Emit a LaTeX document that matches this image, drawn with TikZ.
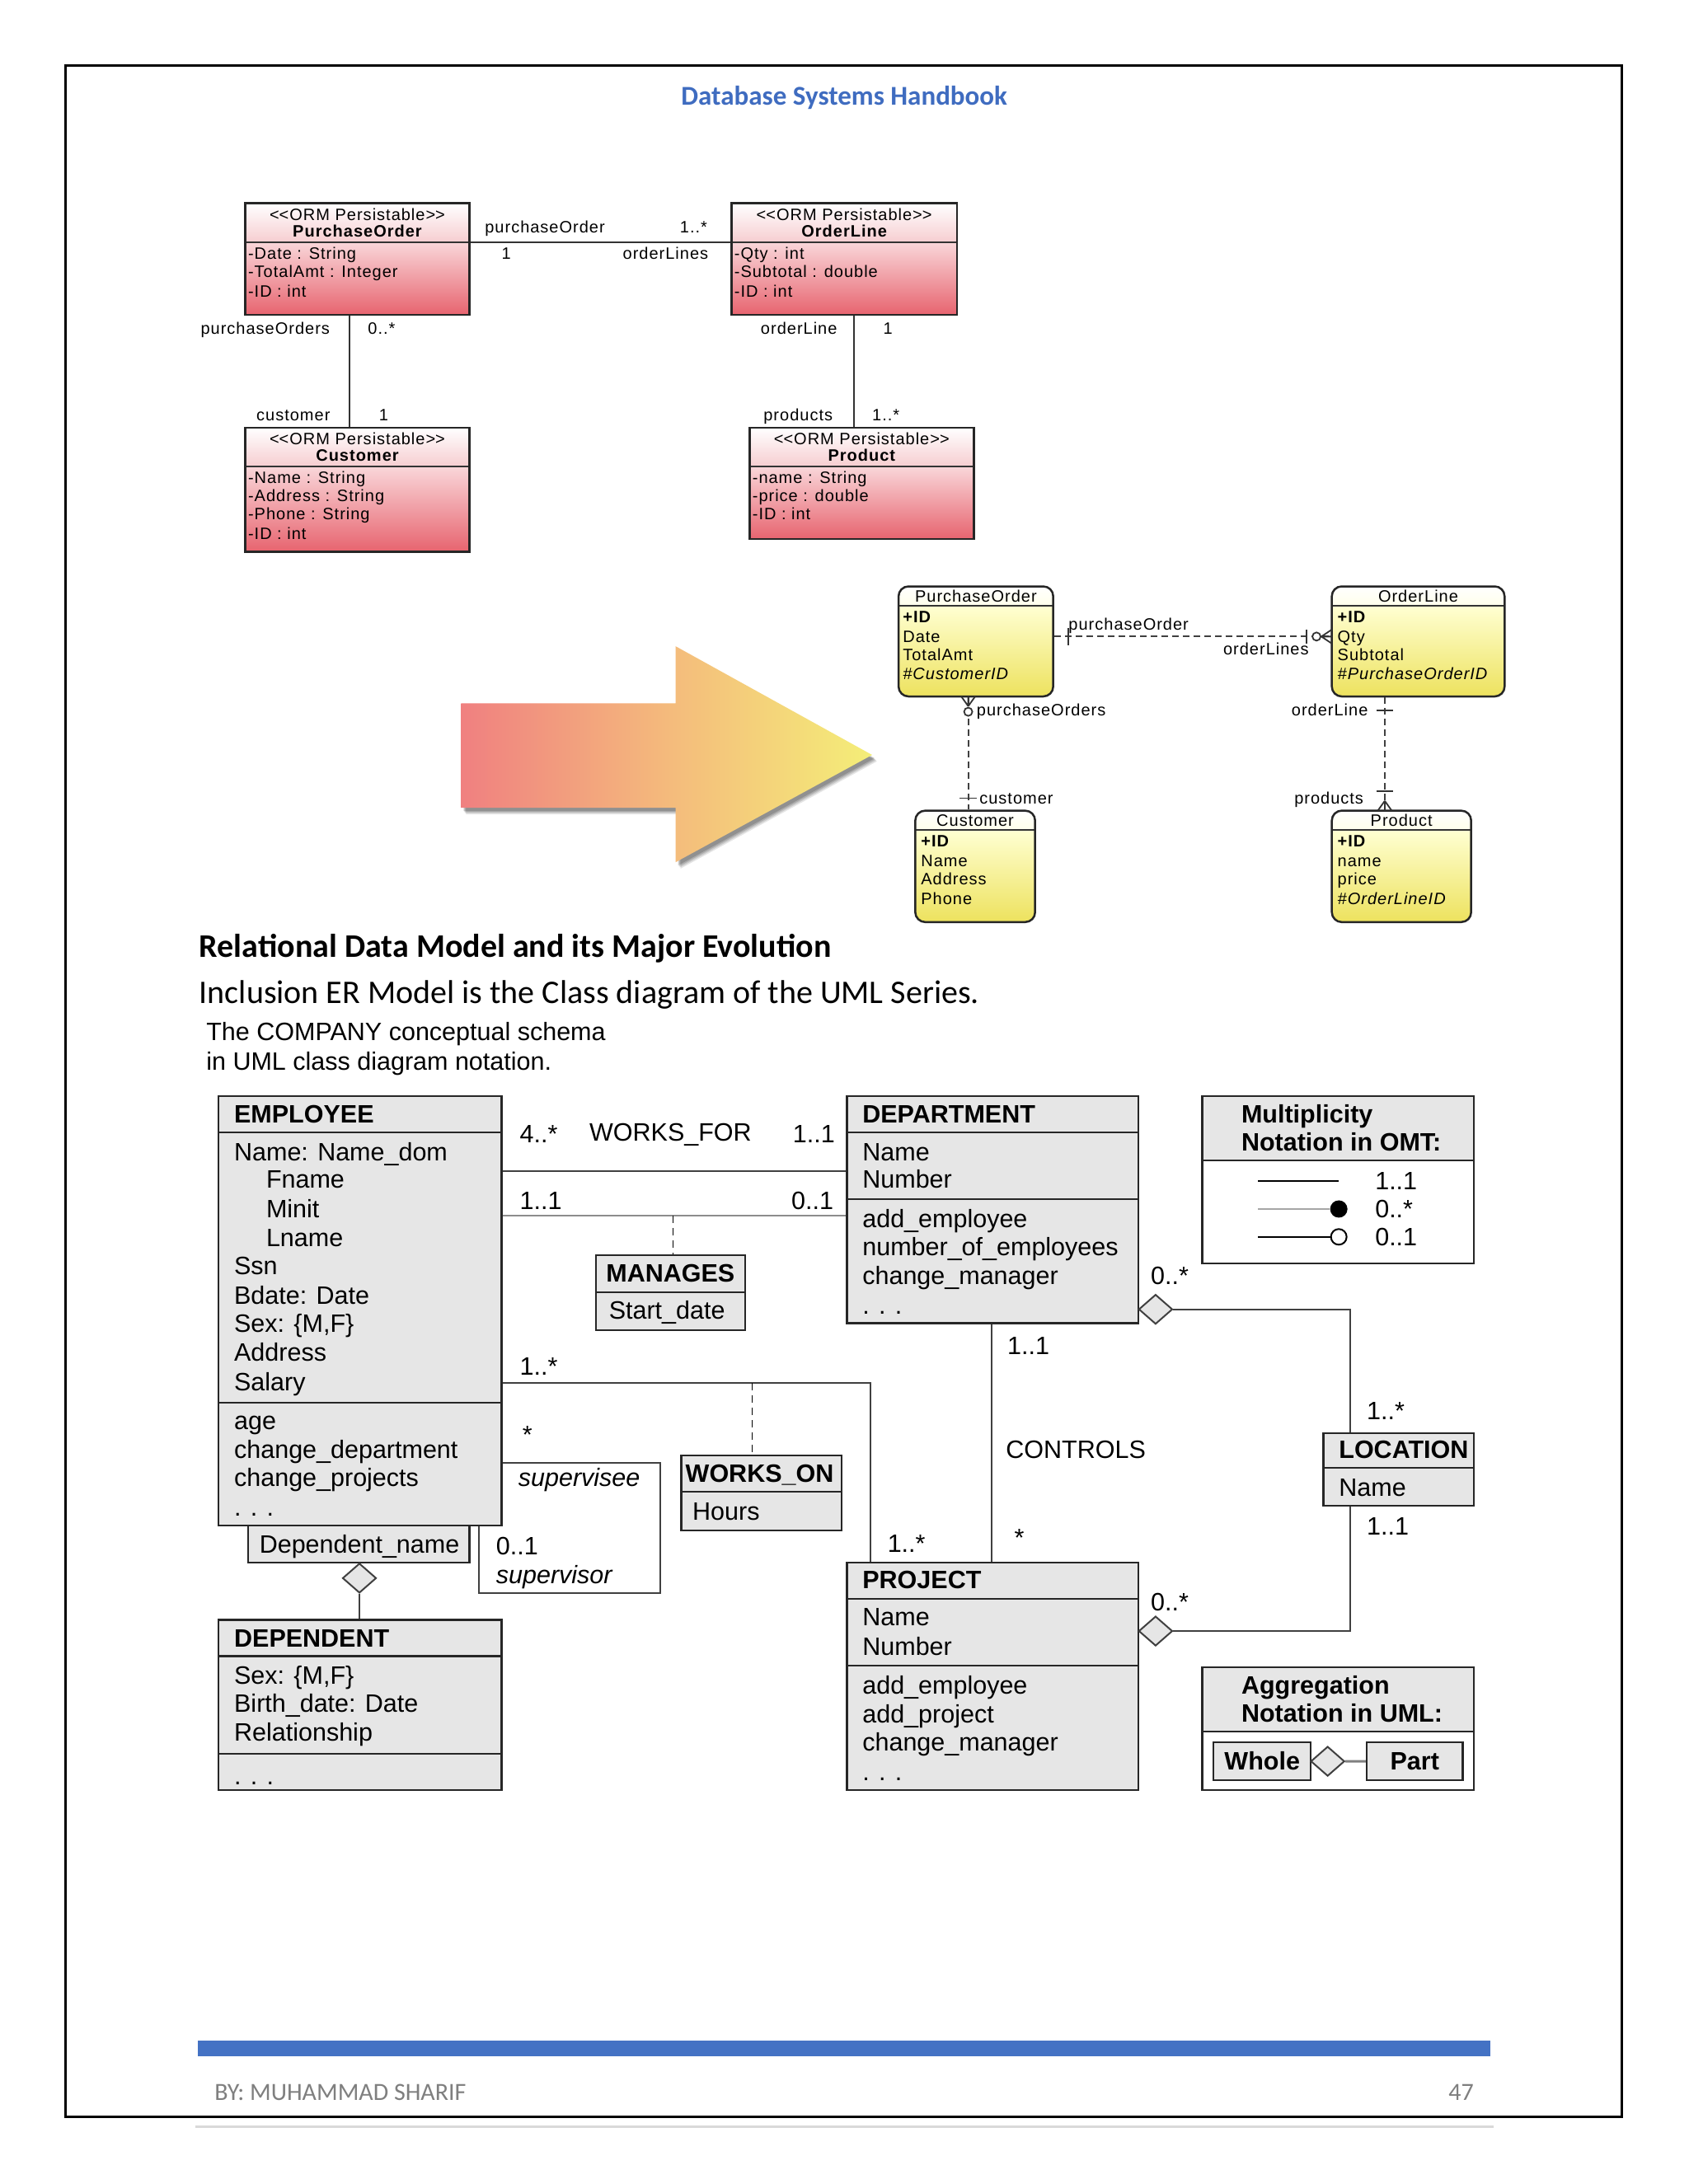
\documentclass[tikz,border=0pt]{standalone}
\usepackage{fontspec}
\setmainfont{Liberation Sans}
\newfontfamily\calib{Carlito}
\newfontfamily\ofont{Liberation Sans}[LetterSpace=5]
\usetikzlibrary{shapes.geometric,fit,calc}
\definecolor{titleblue}{HTML}{3F6CC0}
\definecolor{barblue}{HTML}{4472C4}
\definecolor{footgrey}{HTML}{7F7F7F}
\definecolor{umlgrey}{HTML}{E6E6E6}
\definecolor{ormhead}{HTML}{F6CDD0}
\definecolor{ormtop}{HTML}{F9D6D9}
\definecolor{ormbot}{HTML}{E7646F}
\definecolor{ylwhead}{HTML}{FFFFEA}
\definecolor{ylwtop}{HTML}{FFFFD2}
\definecolor{ylwbot}{HTML}{EDE25E}
\definecolor{arrpink}{HTML}{F08080}
\definecolor{arrorange}{HTML}{F4BA7C}
\definecolor{arryellow}{HTML}{F4EE78}
\newcommand\ormbox[7]{%
  \shade[top color=white,bottom color=ormhead] (#2,#3) rectangle (#4,#5);
  \shade[top color=ormtop,bottom color=ormbot] (#2,#5) rectangle (#4,#6);
  \draw[line width=1.8pt,black!80] (#2,#5) -- (#4,#5);
  \node[draw=black!85,line width=2.5pt,inner sep=0pt,fit={(#2,#3) (#4,#6)}] (#1) {};
  \node[ot,anchor=center] (#1-st) at ({(#2+#4)/2},#3+8) {<\kern0pt<ORM Persistable>\kern0pt>};
  \node[ot,anchor=center,font=\ofont\bfseries\fontsize{20}{24}\selectfont] (#1-ti) at ({(#2+#4)/2},#3+20) {#7};
}
\newcommand\ylwbox[7]{%
  \begin{scope}
  \clip[rounded corners=12pt] (#2,#3) rectangle (#4,#6);
  \shade[top color=white,bottom color=ylwhead] (#2,#3) rectangle (#4,#5);
  \shade[top color=ylwtop,bottom color=ylwbot] (#2,#5) rectangle (#4,#6);
  \end{scope}
  \draw[line width=1.8pt,black!80] (#2,#5) -- (#4,#5);
  \node[draw=black!85,line width=2.5pt,rounded corners=12pt,inner sep=0pt,fit={(#2,#3) (#4,#6)}] (#1) {};
  \node[ot,anchor=center] (#1-ti) at ({(#2+#4)/2},{(#3+#5)/2}) {#7};
}
\newcommand\arrowpath{(331,505) -- (485,505) -- (485,464) -- (626,542) -- (485,619) -- (485,580) -- (331,580) -- cycle}
\begin{document}
\begin{tikzpicture}[x=1.6898pt,y=-1.6898pt,
  ut/.style={anchor=west,inner sep=0pt,font=\fontsize{30.5}{36}\selectfont,text height=21pt,text depth=0pt},
  ub/.style={ut,font=\bfseries\fontsize{30.5}{36}\selectfont},
  ui/.style={ut,font=\itshape\fontsize{30.5}{36}\selectfont},
  umlbox/.style={draw=black!85,line width=2.2pt,fill=umlgrey,inner sep=0pt},
  comp/.style={line width=2.2pt,draw=black!85},
  assoc/.style={line width=2pt,draw=black!75},
  ot/.style={anchor=west,inner sep=0pt,font=\ofont\fontsize{20}{24}\selectfont,text height=14pt,text depth=0pt},
  ob/.style={ot,font=\ofont\bfseries\fontsize{20}{24}\selectfont},
  oi/.style={ot,font=\ofont\itshape\fontsize{20}{24}\selectfont},
  ormline/.style={line width=2pt,draw=black!80},
  ydash/.style={line width=1.8pt,draw=black!75,dash pattern=on 8pt off 5pt},
  ymark/.style={line width=1.8pt,draw=black!80},
  diam/.style={diamond,draw=black!75,line width=2pt,fill=umlgrey,inner sep=0pt,minimum width=41pt,minimum height=36pt}
]
\useasboundingbox (0,0) rectangle (1212,1568);
\fill[white] (0,0) rectangle (1212,1568);
% page frame
\draw[line width=3pt] (47,47) rectangle (1164,1520);
\draw[black!15,line width=3pt] (140,1527) -- (1072,1527);
\node[font=\calib\bfseries\fontsize{33}{40}\selectfont,text=titleblue,inner sep=0pt] (title) at (606,70) {Database Systems Handbook};

% ===== ORM diagram =====
\ormbox{po}{176}{146}{337}{174}{226}{PurchaseOrder}
\ormbox{ol}{525}{146}{687}{174}{226}{OrderLine}
\ormbox{cu}{176}{307}{337}{335}{396}{Customer}
\ormbox{pr}{538}{307}{699}{335}{387}{Product}
\node[ot] (po1) at (178,182) {-Date : String};
\node[ot] (po2) at (178,195) {-TotalAmt : Integer};
\node[ot] (po3) at (178,209) {-ID : int};
\node[ot] (ol1) at (527,182) {-Qty : int};
\node[ot] (ol2) at (527,195) {-Subtotal : double};
\node[ot] (ol3) at (527,209) {-ID : int};
\node[ot] (cu1) at (178,343) {-Name : String};
\node[ot] (cu2) at (178,356) {-Address : String};
\node[ot] (cu3) at (178,369) {-Phone : String};
\node[ot] (cu4) at (178,383) {-ID : int};
\node[ot] (pr1) at (540,343) {-name : String};
\node[ot] (pr2) at (540,356) {-price : double};
\node[ot] (pr3) at (540,369) {-ID : int};
\draw[ormline] (po.east |- 0,174) -- (ol.west |- 0,174);
\draw[ormline] (po.south -| 251,0) -- (cu.north -| 251,0);
\draw[ormline] (ol.south -| 613,0) -- (pr.north -| 613,0);
\node[ot] (l1) at (348,163) {purchaseOrder};
\node[ot] (l2) at (488,163) {1..*};
\node[ot] (l3) at (360,182) {1};
\node[ot] (l4) at (447,182) {orderLines};
\node[ot] (l5) at (144,236) {purchaseOrders};
\node[ot] (l6) at (264,236) {0..*};
\node[ot] (l7) at (184,298) {customer};
\node[ot] (l8) at (272,298) {1};
\node[ot] (l9) at (546,236) {orderLine};
\node[ot] (l10) at (634,236) {1};
\node[ot] (l11) at (548,298) {products};
\node[ot] (l12) at (626,298) {1..*};

% ===== big arrow with soft shadow =====
\foreach \s/\o in {6/0.10,5/0.12,4/0.14,3/0.16}{
  \fill[black,opacity=\o,xshift=\s pt,yshift=-1.3*\s pt] \arrowpath;
}
\shade[left color=arrpink,right color=arryellow,middle color=arrorange] \arrowpath;

% ===== yellow ER diagram =====
\ylwbox{ypo}{645}{421}{756}{435}{500}{PurchaseOrder}
\ylwbox{yol}{956}{421}{1080}{435}{500}{OrderLine}
\ylwbox{ycu}{657}{582}{743}{596}{662}{Customer}
\ylwbox{ypr}{956}{582}{1056}{596}{662}{Product}
\node[ob] (ya1) at (648,443) {+ID};
\node[ot] (ya2) at (648,457) {Date};
\node[ot] (ya3) at (648,470) {TotalAmt};
\node[oi] (ya4) at (648,484) {\#CustomerID};
\node[ob] (yb1) at (960,443) {+ID};
\node[ot] (yb2) at (960,457) {Qty};
\node[ot] (yb3) at (960,470) {Subtotal};
\node[oi] (yb4) at (960,484) {\#PurchaseOrderID};
\node[ob] (yc1) at (661,604) {+ID};
\node[ot] (yc2) at (661,618) {Name};
\node[ot] (yc3) at (661,631) {Address};
\node[ot] (yc4) at (661,645) {Phone};
\node[ob] (yd1) at (960,604) {+ID};
\node[ot] (yd2) at (960,618) {name};
\node[ot] (yd3) at (960,631) {price};
\node[oi] (yd4) at (960,645) {\#OrderLineID};
\draw[ydash] (ypo.east |- 0,457) -- (yol.west |- 0,457);
\draw[ydash] (ypo.south -| 695,0) -- (ycu.north -| 695,0);
\draw[ydash] (yol.south -| 994,0) -- (ypr.north -| 994,0);
% markers
\draw[ymark] (767,451) -- (767,463);
\draw[ymark] (938,452) -- (938,462);
\draw[ymark,fill=white] (945,457) circle (5pt);
\draw[ymark] (948.5,457) -- (956,452) (948.5,457) -- (956,457) (948.5,457) -- (956,462);
\draw[ymark] (695,507) -- (690,500) (695,507) -- (695,500) (695,507) -- (700,500);
\draw[ymark,fill=white] (695,511) circle (5pt);
\draw[ymark] (689,573) -- (701,573);
\draw[ymark] (988,510) -- (1000,510);
\draw[ymark] (988,568) -- (1000,568);
\draw[ymark] (994,575) -- (989,582) (994,575) -- (994,582) (994,575) -- (999,582);
\node[ot] (yl1) at (767,448) {purchaseOrder};
\node[ot] (yl2) at (878,466) {orderLines};
\node[ot] (yl3) at (701,510) {purchaseOrders};
\node[ot] (yl4) at (703,573) {customer};
\node[ot] (yl5) at (927,510) {orderLine};
\node[ot] (yl6) at (929,573) {products};

% ===== headings =====
\node[anchor=west,inner sep=0pt,font=\calib\bfseries\fontsize{40}{48}\selectfont] (h1) at (143,681) {Relational Data Model and its Major Evolution};
\node[anchor=west,inner sep=0pt,font=\calib\fontsize{40}{48}\selectfont] (h2) at (143,714) {Inclusion ER Model is the Class diagram of the UML Series.};
\node[ut] (cap1) at (148,741) {The COMPANY conceptual schema};
\node[ut] (cap2) at (148,762) {in UML class diagram notation.};

% ===== UML class diagram =====
% EMPLOYEE
\node[umlbox,fit={(157,787) (360,1095)}] (emp) {};
\draw[comp] (emp.west |- 0,813) -- (emp.east |- 0,813);
\draw[comp] (emp.west |- 0,1007) -- (emp.east |- 0,1007);
\node[ub] (e0) at (168,800) {EMPLOYEE};
\node[ut] (e1) at (168,827) {Name: Name\_dom};
\node[ut] (e2) at (191,847) {Fname};
\node[ut] (e3) at (191,868) {Minit};
\node[ut] (e4) at (191,889) {Lname};
\node[ut] (e5) at (168,909) {Ssn};
\node[ut] (e6) at (168,930) {Bdate: Date};
\node[ut] (e7) at (168,950) {Sex: \{M,F\}};
\node[ut] (e8) at (168,971) {Address};
\node[ut] (e9) at (168,992) {Salary};
\node[ut] (e10) at (168,1020) {age};
\node[ut] (e11) at (168,1041) {change\_department};
\node[ut] (e12) at (168,1061) {change\_projects};
\node[ut] (e13) at (168,1082) {. . .};
% qualifier + DEPENDENT
\node[umlbox,fit={(178,1095) (337,1122)}] (qual) {};
\node[ut,anchor=center] (q1) at (258,1109) {Dependent\_name};
\node[diam] (dq) at (258,1133) {};
\node[umlbox,fit={(157,1163) (360,1285)}] (dep) {};
\draw[comp] (dep.west |- 0,1189) -- (dep.east |- 0,1189);
\draw[comp] (dep.west |- 0,1259) -- (dep.east |- 0,1259);
\draw[assoc] (dq.south) -- (dep.north -| dq.south);
\node[ub] (d0) at (168,1176) {DEPENDENT};
\node[ut] (d1) at (168,1203) {Sex: \{M,F\}};
\node[ut] (d2) at (168,1223) {Birth\_date: Date};
\node[ut] (d3) at (168,1244) {Relationship};
\node[ut] (d4) at (168,1275) {. . .};
% DEPARTMENT
\node[umlbox,fit={(608,787) (817,950)}] (dept) {};
\draw[comp] (dept.west |- 0,813) -- (dept.east |- 0,813);
\draw[comp] (dept.west |- 0,861) -- (dept.east |- 0,861);
\node[ub] (p0) at (619,800) {DEPARTMENT};
\node[ut] (p1) at (619,827) {Name};
\node[ut] (p2) at (619,847) {Number};
\node[ut] (p3) at (619,875) {add\_employee};
\node[ut] (p4) at (619,895) {number\_of\_employees};
\node[ut] (p5) at (619,916) {change\_manager};
\node[ut] (p6) at (619,937) {. . .};
% PROJECT
\node[umlbox,fit={(608,1122) (817,1285)}] (proj) {};
\draw[comp] (proj.west |- 0,1148) -- (proj.east |- 0,1148);
\draw[comp] (proj.west |- 0,1196) -- (proj.east |- 0,1196);
\node[ub] (j0) at (619,1134) {PROJECT};
\node[ut] (j1) at (619,1161) {Name};
\node[ut] (j2) at (619,1182) {Number};
\node[ut] (j3) at (619,1210) {add\_employee};
\node[ut] (j4) at (619,1231) {add\_project};
\node[ut] (j5) at (619,1251) {change\_manager};
\node[ut] (j6) at (619,1272) {. . .};
% MANAGES
\node[umlbox,fit={(428,901) (535,955)}] (mgr) {};
\draw[comp] (mgr.west |- 0,928) -- (mgr.east |- 0,928);
\node[ub] (m0) at (435,914) {MANAGES};
\node[ut] (m1) at (437,941) {Start\_date};
% WORKS_ON
\node[umlbox,fit={(489,1045) (604,1099)}] (won) {};
\draw[comp] (won.west |- 0,1071) -- (won.east |- 0,1071);
\node[ub] (w0) at (492,1058) {WORKS\_ON};
\node[ut] (w1) at (497,1085) {Hours};
% LOCATION
\node[umlbox,fit={(950,1029) (1058,1081)}] (loc) {};
\draw[comp] (loc.west |- 0,1054) -- (loc.east |- 0,1054);
\node[ub] (lc0) at (961,1041) {LOCATION};
\node[ut] (lc1) at (961,1068) {Name};

% associations
\draw[assoc] (emp.east |- 0,841) -- (dept.west |- 0,841);
\node[ut] (a1) at (373,814) {4..*};
\node[ut] (a2) at (423,813) {WORKS\_FOR};
\node[ut] (a3) at (569,814) {1..1};
\draw[assoc,draw=black!45] (emp.east |- 0,873) -- (dept.west |- 0,873);
\node[ut] (a4) at (373,862) {1..1};
\node[ut] (a5) at (568,862) {0..1};
\coordinate (mgtop) at (483,873);
\draw[line width=1.6pt,dash pattern=on 9pt off 6pt] (mgtop) -- (mgr.north -| mgtop);
\coordinate (wob) at (625,993);
\draw[assoc] (emp.east |- wob) -- (wob) -- (proj.north -| wob);
\node[ut] (a6) at (373,981) {1..*};
\node[ut] (a7) at (637,1108) {1..*};
\coordinate (wotop) at (540,993);
\draw[line width=1.6pt,dash pattern=on 9pt off 6pt] (wotop) -- (won.north -| wotop);
% supervision
\coordinate (s1) at (474,1050);
\coordinate (s2) at (344,1144);
\draw[assoc] (emp.east |- s1) -- (s1) -- (s1 |- s2) -- (s2) -- (emp.south -| s2);
\node[ut] (a8) at (375,1030) {*};
\node[ui] (a9) at (372,1061) {supervisee};
\node[ut] (a10) at (356,1110) {0..1};
\node[ui] (a11) at (356,1131) {supervisor};
% controls
\draw[assoc] (dept.south -| 712,0) -- (proj.north -| 712,0);
\node[ut] (a12) at (723,966) {1..1};
\node[ut] (a13) at (722,1041) {CONTROLS};
\node[ut] (a14) at (728,1104) {*};
% locations aggregation
\node[diam] (dd) at (829.5,940) {};
\node[diam] (pd) at (829.5,1171) {};
\coordinate (lo1) at (969,940);
\coordinate (lo2) at (969,1171);
\draw[assoc] (dd.east) -- (lo1) -- (loc.north -| lo1);
\draw[assoc] (loc.south -| lo2) -- (lo2) -- (pd.east);
\node[ut] (a15) at (826,916) {0..*};
\node[ut] (a16) at (981,1013) {1..*};
\node[ut] (a17) at (981,1096) {1..1};
\node[ut] (a18) at (826,1150) {0..*};

% legends
\node[umlbox,fill=white,fit={(863,787) (1058,907)}] (leg1) {};
\fill[umlgrey] (863,787) rectangle (1058,833);
\node[draw=black!85,line width=2.2pt,inner sep=0pt,fit={(863,787) (1058,907)}] (leg1b) {};
\draw[comp] (leg1.west |- 0,833) -- (leg1.east |- 0,833);
\node[ub] (g1) at (891,800) {Multiplicity};
\node[ub] (g2) at (891,820) {Notation in OMT:};
\coordinate (m11) at (903,848);
\coordinate (m12) at (961,848);
\draw[line width=2pt] (m11) -- (m12);
\node[ut] (g3) at (987,848) {1..1};
\node[circle,fill=black,inner sep=0pt,minimum size=21pt] (fdot) at (961,868) {};
\coordinate (m21) at (903,868);
\draw[line width=2.5pt,black!35] (m21) -- (fdot.west);
\node[ut] (g4) at (987,868) {0..*};
\node[circle,draw=black,line width=2pt,fill=white,inner sep=0pt,minimum size=19pt] (odot) at (961,888) {};
\coordinate (m31) at (903,888);
\draw[line width=2pt] (m31) -- (odot.west);
\node[ut] (g5) at (987,888) {0..1};

\node[umlbox,fill=white,fit={(863,1197) (1058,1285)}] (leg2) {};
\fill[umlgrey] (863,1197) rectangle (1058,1243);
\node[draw=black!85,line width=2.2pt,inner sep=0pt,fit={(863,1197) (1058,1285)}] (leg2b) {};
\draw[comp] (leg2.west |- 0,1243) -- (leg2.east |- 0,1243);
\node[ub] (g6) at (891,1210) {Aggregation};
\node[ub] (g7) at (891,1230) {Notation in UML:};
\node[umlbox,fit={(871,1251) (941,1278)}] (whole) {};
\node[ub,anchor=center] (g8) at (906,1264.5) {Whole};
\node[umlbox,fit={(981,1251) (1050,1278)}] (part) {};
\node[ub,anchor=center] (g9) at (1015.5,1264.5) {Part};
\node[diam] (ld) at (953,1264.5) {};
\draw[assoc,draw=black!50,line width=3pt] (ld.east) -- (part.west);

% ===== footer =====
\fill[barblue] (142,1465) rectangle (1070,1476);
\node[anchor=west,inner sep=0pt,font=\calib\fontsize{30}{36}\selectfont,text=footgrey] (f1) at (154,1502) {BY: MUHAMMAD SHARIF};
\node[anchor=east,inner sep=0pt,font=\calib\fontsize{30}{36}\selectfont,text=footgrey] (f2) at (1058,1502) {47};
\end{tikzpicture}
\end{document}
